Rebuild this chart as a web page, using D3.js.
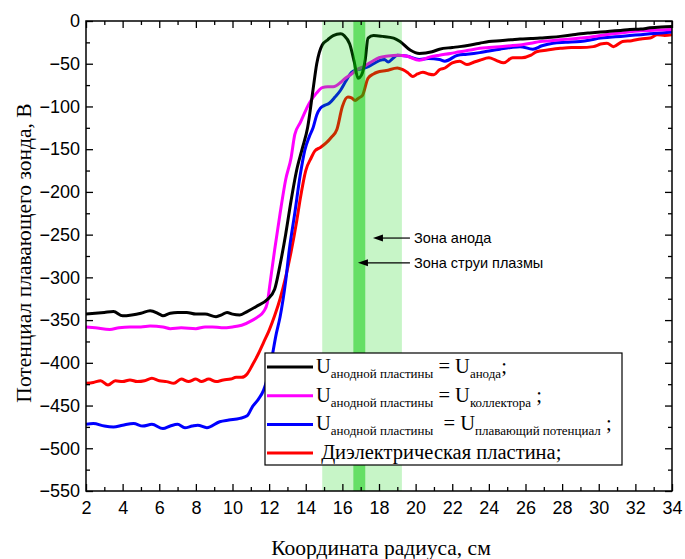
<!doctype html>
<html lang="ru">
<head>
<meta charset="utf-8" />
<title>Потенциал плавающего зонда</title>
<script src="https://cdn.jsdelivr.net/npm/d3@7"></script>
<style>
  body { margin: 0; background: #fff; }
  svg { display: block; }
</style>
</head>
<body>
<script>
// --- data ---
var anodeX = [2, 2.5, 3, 3.5, 4, 4.5, 5, 5.5, 6, 6.2, 6.6, 7, 7.5, 8, 8.5, 9.1, 9.4, 9.7, 10, 10.4, 10.8, 11.3, 11.9, 12.3, 12.6, 12.9, 13.2, 13.5, 13.8, 14.1, 14.4, 14.6, 14.9, 15.2, 15.5, 15.9, 16.1, 16.4, 16.65, 16.85, 17.05, 17.25, 17.4, 17.7, 18.2, 18.8, 19.15, 19.7, 20.2, 20.9, 21.3, 22, 22.4, 23, 23.5, 24, 24.6, 25.2, 25.7, 26.3, 26.8, 27.4, 27.9, 28.5, 29, 29.5, 30.1, 30.6, 31.2, 31.7, 32.3, 32.8, 33.4, 34];
var anodeY = [-343, -342, -341, -340, -345, -344, -342, -339, -343, -345, -342, -341, -341, -343, -343, -346, -344, -341, -343, -344, -340, -334, -326, -314, -285, -250, -210, -175, -150, -125, -80, -50, -28, -22, -17, -15, -17, -27, -48, -67, -63, -45, -20, -17, -18, -20, -24, -34, -38, -36, -33, -31, -30, -28, -26, -24, -23, -22, -21, -20.5, -20, -19, -18, -16.5, -15, -14, -13, -12, -11, -10, -9.5, -8, -7, -6.5];

var collectorX = [2, 2.5, 3.3, 3.8, 4.4, 5, 5.5, 6.2, 6.6, 7.2, 8, 8.5, 8.9, 9.4, 10, 10.5, 11.1, 11.4, 11.7, 11.9, 12.05, 12.3, 12.6, 12.9, 13.2, 13.4, 13.7, 14.2, 14.6, 14.9, 15.2, 15.5, 15.9, 16.1, 16.5, 16.8, 17.2, 17.5, 18, 18.5, 19, 19.5, 20.2, 20.8, 21.3, 21.9, 22.4, 23, 23.5, 24, 24.6, 25.2, 25.7, 26.3, 26.8, 27.4, 27.9, 28.5, 29, 29.5, 30.1, 30.6, 31.2, 31.7, 32.3, 32.8, 33.4, 34];
var collectorY = [-358, -359, -361, -359, -358, -358, -357, -358, -360, -359, -360, -358, -358, -359, -358, -356, -350, -346, -340, -330, -307, -268, -225, -186, -160, -133, -119, -96, -84, -78, -77, -77, -72, -68, -62, -57, -53, -49, -43, -41, -40, -41, -46, -42, -40, -38, -36, -34, -32, -31, -30, -29, -28, -26, -24, -23, -22, -21, -20, -19, -17, -15.5, -14, -12.5, -11.5, -11, -10.5, -10];

var floatX = [2, 2.4, 3, 3.5, 4, 4.6, 5.1, 5.6, 6.2, 6.6, 7, 7.4, 7.8, 8.1, 8.6, 9.3, 9.8, 10.4, 10.8, 11.1, 11.4, 11.7, 12.05, 12.4, 12.6, 12.9, 13.1, 13.4, 13.7, 13.95, 14.2, 14.4, 14.6, 14.8, 15, 15.3, 15.6, 15.9, 16.2, 16.5, 16.8, 17.1, 17.35, 17.7, 18.05, 18.3, 18.5, 18.8, 19, 19.5, 20.2, 20.7, 21.3, 21.6, 22.3, 22.8, 23.5, 24, 24.6, 25.2, 25.7, 26.4, 26.9, 27.5, 28.2, 29, 29.6, 30.1, 30.6, 31.2, 31.7, 32.3, 32.8, 33.4, 34];
var floatY = [-472, -471, -474, -475, -473, -471, -474, -472, -477, -474, -472, -476, -474, -473, -476, -469, -467, -465, -462, -451, -443, -432, -405, -365, -346, -305, -268, -225, -180, -151, -135, -125, -110, -102, -99, -96, -89, -81, -70, -60, -57, -56, -54, -50, -46, -45, -48, -43, -40, -41, -45, -44, -45, -47, -40, -39, -37, -35, -33, -31, -30, -33, -29, -26, -25, -24, -22, -20, -19, -18, -17, -16, -15, -14, -13];

var dielectricX = [2, 2.4, 2.8, 3.2, 3.6, 4, 4.4, 4.8, 5.2, 5.6, 6, 6.4, 6.8, 7.2, 7.6, 8, 8.3, 8.7, 9.1, 9.5, 9.9, 10.2, 10.5, 10.8, 11.1, 11.4, 11.7, 12, 12.3, 12.6, 12.9, 13.2, 13.5, 13.7, 14, 14.3, 14.5, 14.8, 15.1, 15.4, 15.7, 16, 16.3, 16.5, 16.7, 16.9, 17.1, 17.4, 17.7, 17.9, 18.4, 19, 19.3, 19.6, 19.85, 20.1, 20.4, 20.7, 21, 21.3, 21.6, 22, 22.4, 22.8, 23.2, 23.5, 24, 24.4, 24.8, 25.3, 25.8, 26.3, 26.6, 27.2, 27.9, 28.5, 29, 29.7, 30.1, 30.45, 30.8, 31.3, 31.8, 32.3, 32.8, 33.2, 33.6, 34];
var dielectricY = [-424, -423, -421, -426, -421, -422, -420, -422, -421, -418, -421, -422, -424, -419, -422, -419, -422, -419, -422, -420, -419, -417, -417, -413, -402, -390, -376, -362, -345, -325, -300, -270, -235, -208, -175, -160, -152, -148, -143, -136, -127, -100, -89, -90, -93, -90, -87, -67, -62, -60, -58, -55, -57, -61, -65, -62, -60, -62, -63, -57, -55, -49, -47, -51, -48, -46, -43, -46, -49, -43, -43, -40, -36, -34, -32, -31, -31, -30, -27, -26, -30, -24, -23, -21, -20, -16, -17, -16];

var seriesColors = ["#000000", "#ff00ff", "#0000ff", "#ff0000"];
var jetZone = [14.9, 19.25];   // Зона струи плазмы
var anodeZone = [16.6, 17.25]; // Зона анода
var xTicks = d3.range(2, 35, 2);
var yTicks = d3.range(-550, 1, 50);

var w = 685, h = 559;
var pLeft = 86, pRight = 672, pTop = 21, pBottom = 491;

var x = d3.scaleLinear().domain([2, 34]).range([pLeft, pRight]);
var y = d3.scaleLinear().domain([-550, 0]).range([pBottom, pTop]);

var svg = d3.select("body").append("svg")
  .attr("width", w)
  .attr("height", h);

var defs = svg.append("defs");
defs.append("clipPath").attr("id", "plot")
  .append("rect")
  .attr("x", pLeft).attr("y", pTop)
  .attr("width", pRight - pLeft).attr("height", pBottom - pTop);

var series = [
  { xs: anodeX, ys: anodeY },
  { xs: collectorX, ys: collectorY },
  { xs: floatX, ys: floatY },
  { xs: dielectricX, ys: dielectricY }
];

var line = d3.line()
  .x(function(d) { return x(d[0]); })
  .y(function(d) { return y(d[1]); })
  .curve(d3.curveMonotoneX);

var plot = svg.append("g").attr("clip-path", "url(#plot)");

// draw red first so black ends up on top
series.slice().reverse().forEach(function(s, i) {
  var color = seriesColors[series.length - 1 - i];
  plot.append("path")
    .datum(d3.zip(s.xs, s.ys))
    .attr("fill", "none")
    .attr("stroke", color)
    .attr("stroke-width", 3)
    .attr("stroke-linejoin", "round")
    .attr("d", line);
});

// translucent zones on top of the curves
plot.append("rect")
  .attr("x", x(jetZone[0])).attr("y", pTop)
  .attr("width", x(jetZone[1]) - x(jetZone[0]))
  .attr("height", pBottom - pTop)
  .attr("fill", "rgb(0,210,0)")
  .attr("fill-opacity", 0.22);
plot.append("rect")
  .attr("x", x(anodeZone[0])).attr("y", pTop)
  .attr("width", x(anodeZone[1]) - x(anodeZone[0]))
  .attr("height", pBottom - pTop)
  .attr("fill", "rgb(0,200,0)")
  .attr("fill-opacity", 0.49);

// --- axes ---
var tickFont = "'Liberation Sans', Arial, sans-serif";

function styleAxis(g) {
  g.select(".domain").remove();
  g.selectAll("line").attr("stroke", "#000").attr("stroke-width", 1.3);
  g.selectAll("text").attr("font-family", tickFont).attr("font-size", 18).attr("fill", "#000");
}

var minorX = d3.range(3, 34, 2);
var minorY = d3.range(-525, 0, 50);

svg.append("g").attr("transform", "translate(0," + pBottom + ")")
  .call(d3.axisBottom(x).tickValues(xTicks).tickSize(-7).tickPadding(10).tickFormat(d3.format("d")))
  .call(styleAxis);
svg.append("g").attr("transform", "translate(0," + pBottom + ")")
  .call(d3.axisBottom(x).tickValues(minorX).tickSize(-4).tickFormat(""))
  .call(styleAxis);
svg.append("g").attr("transform", "translate(0," + pTop + ")")
  .call(d3.axisTop(x).tickValues(xTicks).tickSize(-7).tickFormat(""))
  .call(styleAxis);
svg.append("g").attr("transform", "translate(0," + pTop + ")")
  .call(d3.axisTop(x).tickValues(minorX).tickSize(-4).tickFormat(""))
  .call(styleAxis);

svg.append("g").attr("transform", "translate(" + pLeft + ",0)")
  .call(d3.axisLeft(y).tickValues(yTicks).tickSize(-7).tickPadding(6).tickFormat(d3.format("d")))
  .call(styleAxis);
svg.append("g").attr("transform", "translate(" + pLeft + ",0)")
  .call(d3.axisLeft(y).tickValues(minorY).tickSize(-4).tickFormat(""))
  .call(styleAxis);
svg.append("g").attr("transform", "translate(" + pRight + ",0)")
  .call(d3.axisRight(y).tickValues(yTicks).tickSize(-7).tickFormat(""))
  .call(styleAxis);
svg.append("g").attr("transform", "translate(" + pRight + ",0)")
  .call(d3.axisRight(y).tickValues(minorY).tickSize(-4).tickFormat(""))
  .call(styleAxis);

svg.append("rect")
  .attr("x", pLeft).attr("y", pTop)
  .attr("width", pRight - pLeft).attr("height", pBottom - pTop)
  .attr("fill", "none")
  .attr("stroke", "#000")
  .attr("stroke-width", 1.5);

// axis titles
var serif = "'Liberation Serif', 'Times New Roman', serif";
svg.append("text")
  .attr("x", 381)
  .attr("y", 555)
  .attr("text-anchor", "middle")
  .attr("font-family", serif)
  .attr("font-size", 21.5)
  .text("Координата радиуса, см");
svg.append("text")
  .attr("transform", "translate(31,253) rotate(-90)")
  .attr("text-anchor", "middle")
  .attr("font-family", serif)
  .attr("font-size", 21.5)
  .text("Потенциал плавающего зонда, В");

// --- annotations ---
var notes = [
  { tip: 17.67, from: 19.69, yv: -254, label: "Зона анода" },
  { tip: 16.85, from: 19.69, yv: -283, label: "Зона струи плазмы" }
];
notes.forEach(function(n) {
  var tx = x(n.tip), ty = y(n.yv);
  svg.append("line")
    .attr("x1", x(n.from)).attr("y1", ty)
    .attr("x2", tx + 6).attr("y2", ty)
    .attr("stroke", "#000")
    .attr("stroke-width", 1.2);
  svg.append("path")
    .attr("d", "M" + tx + "," + ty + "L" + (tx + 10) + "," + (ty - 3.5) + "L" + (tx + 10) + "," + (ty + 3.5) + "Z")
    .attr("fill", "#000");
  svg.append("text")
    .attr("x", x(n.from) + 4)
    .attr("y", ty + 5)
    .attr("font-family", tickFont)
    .attr("font-size", 14.5)
    .text(n.label);
});

// --- legend ---
var legendLabels = [
  [["U", 0], ["анодной пластины", 1], [" = U", 0], ["анода", 1], [";", 0]],
  [["U", 0], ["анодной пластины", 1], [" = U", 0], ["коллектора", 1], [" ;", 0]],
  [["U", 0], ["анодной пластины", 1], ["\u00a0 = U", 0], ["плавающий потенциал", 1], [" ;", 0]],
  [["\u00a0Диэлектрическая пластина;", 0]]
];

var lg = svg.append("g").attr("transform", "translate(265,353)");
lg.append("rect")
  .attr("width", 357).attr("height", 112)
  .attr("fill", "#fff")
  .attr("stroke", "#000")
  .attr("stroke-width", 1.2);

legendLabels.forEach(function(parts, i) {
  var cy = 14 + i * 28.7;
  lg.append("line")
    .attr("x1", 2).attr("x2", 48)
    .attr("y1", cy).attr("y2", cy)
    .attr("stroke", seriesColors[i])
    .attr("stroke-width", 3);
  var t = lg.append("text")
    .attr("x", 51)
    .attr("y", cy + 6)
    .attr("font-family", serif)
    .attr("font-size", 20.5)
    .attr("xml:space", "preserve");
  var shift = 0;
  parts.forEach(function(p) {
    var target = p[1] ? 5 : 0;
    t.append("tspan")
      .attr("dy", target - shift)
      .attr("font-size", p[1] ? 13 : 20.5)
      .text(p[0]);
    shift = target;
  });
});
</script>
</body>
</html>
